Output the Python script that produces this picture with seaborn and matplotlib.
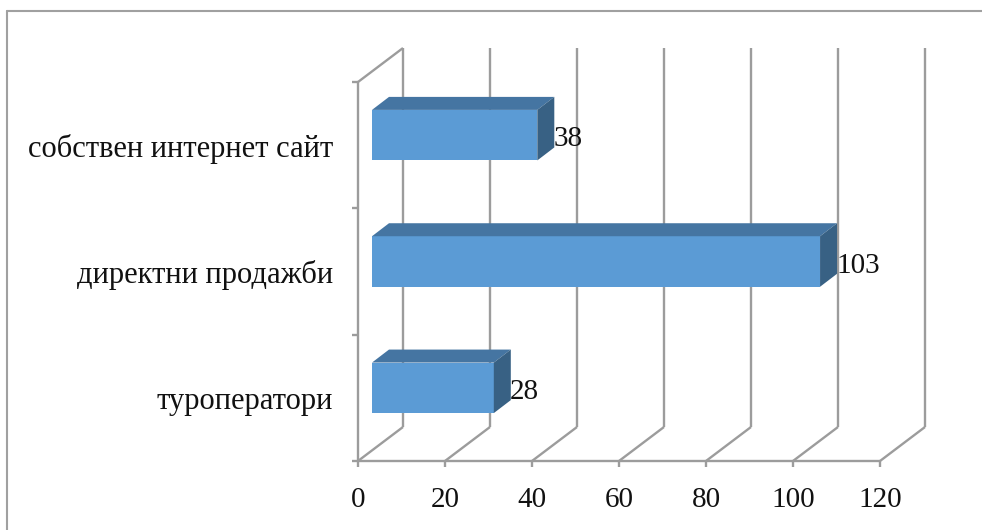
import numpy as np
import pandas as pd
import matplotlib.pyplot as plt
import seaborn as sns
from matplotlib.patches import Polygon
from matplotlib.lines import Line2D
from matplotlib.transforms import ScaledTranslation

categories = ["собствен интернет сайт", "директни продажби", "туроператори"]
values = [38, 103, 28]
x_ticks = [0, 20, 40, 60, 80, 100, 120]

df = pd.DataFrame({"channel": categories, "count": values})

sns.set_theme(style="white")
plt.rcParams['font.family'] = ['Liberation Serif', 'DejaVu Serif']

W, H = 982, 530
fig = plt.figure(figsize=(W / 100, H / 100), dpi=100)
# front plane of the pseudo-3d box, in pixels
L, R, B, T = 358, 880, 461, 82
ax = fig.add_axes([L / W, 1 - B / H, (R - L) / W, (B - T) / H])

front = "#5b9bd5"
top_c = "#4575a2"
side_c = "#386184"
grid_c = "#9c9c9c"

sns.barplot(data=df, x="count", y="channel", orient="h", color=front,
            width=0.4, saturation=1, edgecolor="none", ax=ax)
ax.set_xlim(0, 120)
ax.set_ylim(2.5, -0.5)
ax.set_xlabel("")
ax.set_ylabel("")
for s in ax.spines.values():
    s.set_visible(False)
ax.set_facecolor("none")

# pixel <-> data conversion
upx = 120 / (R - L)
vpx = 3 / (B - T)

def off(dx, dy):
    # dx, dy in pixels (dy up)
    return ax.transData + ScaledTranslation(dx / 100, dy / 100, fig.dpi_scale_trans)

# walls / gridlines
WX, WY = 45, 34
lk = dict(color=grid_c, lw=1.7, clip_on=False, solid_capstyle="butt")
for t in x_ticks:
    ax.plot([t, t + WX * upx], [2.5, 2.5 - WY * vpx], zorder=0, **lk)
    ax.plot([t + WX * upx] * 2, [2.5 - WY * vpx, -0.5 - WY * vpx], zorder=0, **lk)
    ax.plot([t, t], [2.5, 2.5 + 6 * vpx], **lk)
ax.plot([0, 120], [2.5, 2.5], **lk)
ax.plot([0, 0], [2.5, -0.5], **lk)
ax.plot([0, WX * upx], [-0.5, -0.5 - WY * vpx], **lk)
for b in [-0.5, 0.5, 1.5, 2.5]:
    ax.plot([-6 * upx, 0], [b, b], **lk)

# bars: move front faces into the box and add top / side faces
BX, BY = 14, 10
DX, DY = 17, 13
for p in ax.patches[:len(values)]:
    p.set_transform(off(BX, BY))
    p.set_zorder(3)
    x0, y0 = p.get_x(), p.get_y()
    w, h = p.get_width(), p.get_height()
    yt, yb = y0, y0 + h
    dxu, dyu = DX * upx, -DY * vpx
    top = Polygon([(x0, yt), (x0 + w, yt), (x0 + w + dxu, yt + dyu), (x0 + dxu, yt + dyu)],
                  closed=True, facecolor=top_c, edgecolor="none",
                  transform=off(BX, BY), zorder=3)
    side = Polygon([(x0 + w, yt), (x0 + w + dxu, yt + dyu), (x0 + w + dxu, yb + dyu), (x0 + w, yb)],
                   closed=True, facecolor=side_c, edgecolor="none",
                   transform=off(BX, BY), zorder=3)
    ax.add_patch(top)
    ax.add_patch(side)
    ax.text(x0 + w + dxu, y0 + h / 2, f"{int(w)}", transform=off(BX - 1, BY - 4),
            ha="left", va="center", fontsize=21, color="#111111", zorder=4)

ax.set_xticks(x_ticks)
ax.set_xticklabels([str(t) for t in x_ticks])
ax.tick_params(axis="x", length=0, pad=19, labelsize=21, labelcolor="#111111")
ax.tick_params(axis="y", length=0, pad=18, labelsize=22, labelcolor="#111111")

# outer chart border (only top and left edges visible)
fig.add_artist(Line2D([7 / W, 1], [1 - 11 / H] * 2, color="#a0a0a0", lw=1.5))
fig.add_artist(Line2D([7 / W] * 2, [0, 1 - 11 / H], color="#a0a0a0", lw=1.5))

fig.savefig("out.png", dpi=100)
